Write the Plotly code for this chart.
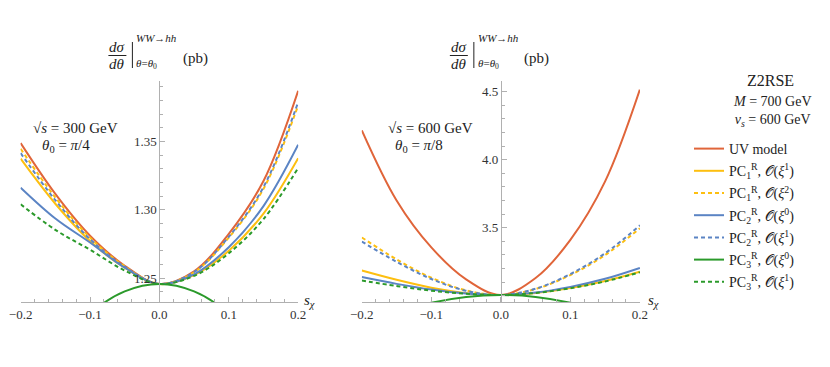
import plotly.graph_objects as go

W, H = 830, 367
SHIFT = 8  # page body margin offsets the figure
FONT = "Liberation Serif"

s_chi = [-0.2, -0.15, -0.1, -0.05, 0.0, 0.05, 0.1, 0.15, 0.2]

# sqrt(s) = 300 GeV, theta0 = pi/4
uv_300 = [1.3488, 1.3116, 1.2810, 1.2590, 1.2456, 1.2549, 1.2824, 1.3211, 1.3872]
pc1_o1_300 = [1.3374, 1.3044, 1.2771, 1.2575, 1.2456, 1.2521, 1.2700, 1.2972, 1.3378]
pc1_o2_300 = [1.3447, 1.3090, 1.2796, 1.2585, 1.2456, 1.2542, 1.2796, 1.3153, 1.3764]
pc2_o0_300 = [1.3162, 1.2936, 1.2760, 1.2576, 1.2456, 1.2527, 1.2726, 1.3027, 1.3476]
pc2_o1_300 = [1.3415, 1.3070, 1.2785, 1.2581, 1.2456, 1.2544, 1.2802, 1.3166, 1.3788]
pc3_o0_300 = [1.1600, 1.1970, 1.2241, 1.2402, 1.2456, 1.2402, 1.2241, 1.1970, 1.1600]
pc3_o1_300 = [1.3040, 1.2853, 1.2707, 1.2555, 1.2456, 1.2516, 1.2681, 1.2932, 1.3306]

# sqrt(s) = 600 GeV, theta0 = pi/8
uv_600 = [4.215, 3.700, 3.355, 3.120, 3.005, 3.130, 3.410, 3.840, 4.515]
pc1_o1_600 = [3.185, 3.117, 3.059, 3.019, 3.005, 3.020, 3.056, 3.108, 3.176]
pc1_o2_600 = [3.428, 3.267, 3.132, 3.039, 3.005, 3.049, 3.152, 3.299, 3.495]
pc2_o0_600 = [3.137, 3.087, 3.045, 3.016, 3.005, 3.023, 3.065, 3.124, 3.204]
pc2_o1_600 = [3.398, 3.249, 3.123, 3.036, 3.005, 3.051, 3.159, 3.312, 3.517]
pc3_o0_600 = [2.775, 2.876, 2.948, 2.991, 3.005, 2.991, 2.948, 2.876, 2.775]
pc3_o1_600 = [3.112, 3.071, 3.037, 3.014, 3.005, 3.020, 3.055, 3.105, 3.172]

names = [
    "UV model",
    "PC<sub>1</sub><sup>R</sup>, 𝒪(<i>ξ</i><sup>1</sup>)",
    "PC<sub>1</sub><sup>R</sup>, 𝒪(<i>ξ</i><sup>2</sup>)",
    "PC<sub>2</sub><sup>R</sup>, 𝒪(<i>ξ</i><sup>0</sup>)",
    "PC<sub>2</sub><sup>R</sup>, 𝒪(<i>ξ</i><sup>1</sup>)",
    "PC<sub>3</sub><sup>R</sup>, 𝒪(<i>ξ</i><sup>0</sup>)",
    "PC<sub>3</sub><sup>R</sup>, 𝒪(<i>ξ</i><sup>1</sup>)",
]
colors = ["#e0653a", "#fdbf10", "#fdbf10", "#5b84c4", "#5b84c4", "#2b9a2b", "#2b9a2b"]
dashes = ["solid", "solid", "4px,3px", "solid", "4px,3px", "solid", "4px,3px"]

left_series = [uv_300, pc1_o1_300, pc1_o2_300, pc2_o0_300, pc2_o1_300, pc3_o0_300, pc3_o1_300]
right_series = [uv_600, pc1_o1_600, pc1_o2_600, pc2_o0_600, pc2_o1_600, pc3_o0_600, pc3_o1_600]

fig = go.Figure()
for i, (name, col, dash) in enumerate(zip(names, colors, dashes)):
    fig.add_trace(go.Scatter(
        x=s_chi, y=left_series[i], mode="lines", name=name,
        line=dict(color=col, width=2, dash=dash, shape="spline"),
        legendgroup=f"g{i}", xaxis="x", yaxis="y",
    ))
    fig.add_trace(go.Scatter(
        x=s_chi, y=right_series[i], mode="lines", name=name, showlegend=False,
        line=dict(color=col, width=2, dash=dash, shape="spline"),
        legendgroup=f"g{i}", xaxis="x2", yaxis="y2",
    ))


# screen pixel -> paper fraction
def px(x):
    return (x - SHIFT) / W


def py(y):
    return (H - (y - SHIFT)) / H


ydom = [py(302.3), py(80.5)]
xdom1 = [px(20.5), px(298.3)]
xdom2 = [px(361.7), px(640.0)]
axis_c = "#b0b0b0"
tickfont = dict(family=FONT, size=13, color="#333")

xcommon = dict(
    range=[-0.2002, 0.2002], showgrid=False, zeroline=False, showline=True,
    linecolor=axis_c, linewidth=1, ticks="inside", ticklen=5, tickcolor=axis_c,
    tickmode="array", tickvals=[-0.2, -0.1, 0.0, 0.1, 0.2], tickformat=".1f",
    minor=dict(ticks="inside", ticklen=3, tickcolor=axis_c, dtick=0.02, tick0=0, showgrid=False),
    tickfont=tickfont, automargin=False, ticklabeloverflow="allow",
)
ycommon = dict(
    showgrid=False, zeroline=False, showline=True, linecolor=axis_c, linewidth=1,
    ticks="inside", ticklen=5, tickcolor=axis_c, tickfont=tickfont, anchor="free",
    domain=ydom, automargin=False,
)

fig.update_layout(
    width=W, height=H, margin=dict(l=0, r=0, t=0, b=0, autoexpand=False),
    paper_bgcolor="white", plot_bgcolor="white",
    font=dict(family=FONT, size=14, color="#222"),
    xaxis=dict(domain=xdom1, anchor="y", **xcommon),
    xaxis2=dict(domain=xdom2, anchor="y2", **xcommon),
    yaxis=dict(range=[1.2322, 1.3947], position=(xdom1[0] + xdom1[1]) / 2,
               tickmode="array", tickvals=[1.25, 1.30, 1.35], tickformat=".2f",
               minor=dict(ticks="inside", ticklen=3, tickcolor=axis_c, dtick=0.01, tick0=1.25),
               **ycommon),
    yaxis2=dict(range=[2.9515, 4.582], position=(xdom2[0] + xdom2[1]) / 2,
                tickmode="array", tickvals=[3.5, 4.0, 4.5], tickformat=".1f",
                minor=dict(ticks="inside", ticklen=3, tickcolor=axis_c, dtick=0.1, tick0=3.0),
                **ycommon),
    legend=dict(x=px(689), y=py(133), xanchor="left", yanchor="top",
                font=dict(family=FONT, size=14, color="#222"),
                traceorder="grouped", tracegroupgap=1, bgcolor="rgba(0,0,0,0)"),
    showlegend=True,
)


def ann(x, y, text, size=14, xanchor="center"):
    fig.add_annotation(x=px(x), y=py(y), xref="paper", yref="paper", text=text,
                       showarrow=False, xanchor=xanchor, yanchor="middle",
                       font=dict(family=FONT, size=size, color="#222"))


def add_title(ax):
    ann(ax - 42, 47, "<i>dσ</i>", 15)
    ann(ax - 42, 64, "<i>dθ</i>", 15)
    fig.add_shape(type="line", xref="paper", yref="paper",
                  x0=px(ax - 51), x1=px(ax - 33), y0=py(55.5), y1=py(55.5),
                  line=dict(color="#222", width=1))
    fig.add_shape(type="line", xref="paper", yref="paper",
                  x0=px(ax - 27), x1=px(ax - 27), y0=py(42), y1=py(68),
                  line=dict(color="#222", width=1))
    ann(ax - 25, 38, "<i>WW</i>→<i>hh</i>", 11, "left")
    ann(ax - 25, 64, "<i>θ</i>=<i>θ</i><sub>0</sub>", 11, "left")
    ann(ax + 36, 58, "(pb)", 15)


ax1 = (20.5 + 298.3) / 2
ax2 = (361.7 + 640.0) / 2
add_title(ax1)
add_title(ax2)

ann(75, 128, "√<i>s</i> = 300 GeV", 15)
ann(66, 146, "<i>θ</i><sub>0</sub> = <i>π</i>/4", 15)
ann(431, 128, "√<i>s</i> = 600 GeV", 15)
ann(419, 146, "<i>θ</i><sub>0</sub> = <i>π</i>/8", 15)

ann(302, 301, "<i>s</i><sub><i>χ</i></sub>", 15, "left")
ann(646, 301, "<i>s</i><sub><i>χ</i></sub>", 15, "left")

ann(770, 80, "Z2RSE", 16)
ann(772, 111, "<i>M</i> = 700 GeV<br><i>v</i><sub><i>s</i></sub> = 600 GeV", 14)

fig.write_html("out.html")
